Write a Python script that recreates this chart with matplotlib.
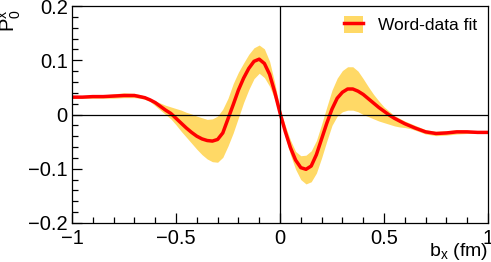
import matplotlib
matplotlib.use("Agg")
import matplotlib.pyplot as plt
from matplotlib.patches import Patch
from matplotlib.lines import Line2D
from matplotlib.ticker import MultipleLocator

plt.rcParams['font.family'] = ['Liberation Sans', 'DejaVu Sans']

# b_x (fm)
bx = [-1.0, -0.95, -0.9, -0.85, -0.8, -0.75, -0.7, -0.675,
      -0.65, -0.625, -0.6, -0.575, -0.55, -0.525, -0.5, -0.475, -0.45, -0.425,
      -0.4, -0.375, -0.35, -0.325, -0.3, -0.275, -0.25, -0.225, -0.2, -0.175,
      -0.15, -0.125, -0.1, -0.075, -0.05, -0.025, 0.0, 0.025, 0.05, 0.075,
      0.1, 0.125, 0.15, 0.175, 0.2, 0.225, 0.25, 0.275, 0.3, 0.325,
      0.35, 0.375, 0.4, 0.425, 0.45, 0.475, 0.5, 0.525, 0.55, 0.575, 0.6,
      0.625, 0.65, 0.7, 0.75, 0.8, 0.85, 0.9, 0.95, 1.0]

# central fit
fit = [0.032, 0.032, 0.033, 0.033, 0.034, 0.035, 0.035, 0.033,
       0.031, 0.027, 0.022, 0.015, 0.008, 0.002, -0.007, -0.016, -0.025, -0.033,
       -0.040, -0.045, -0.048, -0.049, -0.046, -0.034, -0.008, 0.018, 0.045, 0.067,
       0.085, 0.098, 0.102, 0.094, 0.074, 0.041, 0.003, -0.031, -0.061, -0.084,
       -0.098, -0.101, -0.095, -0.074, -0.045, -0.016, 0.010, 0.030, 0.041, 0.047,
       0.047, 0.043, 0.037, 0.029, 0.021, 0.013, 0.006, -0.001, -0.007, -0.012, -0.017,
       -0.021, -0.025, -0.032, -0.035, -0.034, -0.032, -0.032, -0.033, -0.033]

# uncertainty band
upper = [0.034, 0.034, 0.035, 0.036, 0.038, 0.040, 0.039, 0.037,
         0.034, 0.029, 0.025, 0.021, 0.017, 0.014, 0.011, 0.008, 0.004, 0.001,
         -0.003, -0.006, -0.009, -0.008, -0.003, 0.010, 0.030, 0.057, 0.078, 0.095,
         0.111, 0.123, 0.128, 0.121, 0.098, 0.058, 0.010, -0.020, -0.047, -0.068,
         -0.076, -0.075, -0.067, -0.048, -0.018, 0.014, 0.045, 0.067, 0.081, 0.088,
         0.088, 0.080, 0.066, 0.051, 0.037, 0.025, 0.014, 0.006, -0.002, -0.007, -0.012,
         -0.016, -0.020, -0.028, -0.031, -0.030, -0.028, -0.029, -0.031, -0.032]
lower = [0.030, 0.030, 0.030, 0.030, 0.030, 0.031, 0.031, 0.030,
         0.028, 0.024, 0.016, 0.008, 0.000, -0.008, -0.019, -0.031, -0.042, -0.053,
         -0.064, -0.074, -0.082, -0.087, -0.088, -0.079, -0.058, -0.034, -0.006, 0.022,
         0.046, 0.066, 0.076, 0.068, 0.052, 0.028, -0.004, -0.040, -0.074, -0.101,
         -0.120, -0.128, -0.124, -0.108, -0.080, -0.049, -0.020, -0.003, 0.005, 0.008,
         0.008, 0.005, 0.000, -0.004, -0.008, -0.012, -0.015, -0.018, -0.021, -0.023, -0.024,
         -0.026, -0.029, -0.036, -0.039, -0.038, -0.036, -0.035, -0.035, -0.034]

band_color = '#FFD966'
line_color = '#FF0000'

fig = plt.figure(figsize=(4.91, 2.62), dpi=100)
ax = fig.add_axes([72/491, 39/262, 416/491, 217/262])

ax.fill_between(bx, lower, upper, color=band_color, lw=0)
ax.plot(bx, fit, color=line_color, lw=2.5)
ax.axhline(0, color='black', lw=0.9)
ax.axvline(0, color='black', lw=0.9)

ax.set_xlim(-1, 1)
ax.set_ylim(-0.2, 0.2)
ax.xaxis.set_major_locator(MultipleLocator(0.5))
ax.xaxis.set_minor_locator(MultipleLocator(0.1))
ax.yaxis.set_major_locator(MultipleLocator(0.1))
ax.yaxis.set_minor_locator(MultipleLocator(0.02))
ax.tick_params(which='both', direction='in', top=False, right=False, labelsize=14.5, width=0.9)
ax.tick_params(which='major', length=7)
ax.tick_params(which='minor', length=4)
ax.tick_params(axis='y', pad=3)
ax.tick_params(axis='x', pad=4)
ax.set_xticks([-1, -0.5, 0, 0.5, 1])
ax.set_xticklabels(['\u22121', '\u22120.5', '0', '0.5', '1'])
ax.set_yticks([-0.2, -0.1, 0, 0.1, 0.2])
ax.set_yticklabels(['\u22120.2', '\u22120.1', '0', '0.1', '0.2'])
for s in ax.spines.values():
    s.set_linewidth(0.9)

ax.set_ylabel(r'$\mathregular{P_0^x}$', fontsize=14.5, va='center')
ax.yaxis.set_label_coords(-0.148, 0.935)
ax.set_xlabel(r'$\mathregular{b_x}$ (fm)', fontsize=14, ha='right', va='center')
ax.xaxis.set_label_coords(1.0, -0.13)

handle = (Patch(facecolor=band_color, lw=0), Line2D([], [], color=line_color, lw=2.5))
ax.legend([handle], ['Word-data fit'], loc='upper right', frameon=False, fontsize=12.5,
          bbox_to_anchor=(1.012, 1.025), handlelength=1.05, handleheight=1.1, handletextpad=0.9)

fig.savefig('out.png', dpi=100)
